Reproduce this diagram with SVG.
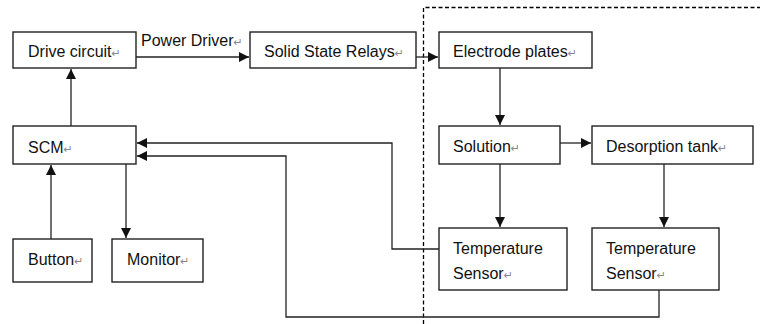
<svg xmlns="http://www.w3.org/2000/svg" width="760" height="324" viewBox="0 0 760 324">
<style>
.box{fill:#fff;stroke:#222;stroke-width:1.4}
.t{font-family:"Liberation Sans",Arial,sans-serif;font-size:16px;fill:#111}
.pm{font-family:"DejaVu Sans",sans-serif;font-size:11px;fill:#888}
.c{fill:none;stroke:#222;stroke-width:1.3}
.a{marker-end:url(#ah)}
.dash{fill:none;stroke:#000;stroke-width:1.3;stroke-dasharray:4 2.5}
</style>
<defs>
<marker id="ah" viewBox="0 0 10 10" refX="10" refY="5" markerWidth="10" markerHeight="10" markerUnits="userSpaceOnUse" orient="auto">
<path d="M0,0 L10,5 L0,10 Z" fill="#111"/>
</marker>
</defs>
<rect width="760" height="324" fill="#fff"/>
<path class="dash" d="M423.5,324 L423.5,7.5 L760,7.5"/>
<g id="connectors">
<line class="c a" x1="136" y1="57" x2="249" y2="57"/>
<text class="t" x="141" y="46">Power Driver<tspan class="pm">↵</tspan></text>
<line class="c a" x1="416" y1="57" x2="438" y2="57"/>
<line class="c a" x1="71" y1="126" x2="71" y2="69"/>
<line class="c a" x1="51" y1="239" x2="51" y2="165"/>
<line class="c a" x1="126" y1="164" x2="126" y2="238"/>
<line class="c a" x1="500" y1="68" x2="500" y2="125"/>
<line class="c a" x1="560" y1="143" x2="591" y2="143"/>
<line class="c a" x1="500" y1="164" x2="500" y2="227"/>
<line class="c a" x1="664" y1="164" x2="664" y2="227"/>
<polyline class="c a" points="439,249 392,249 392,143 137,143"/>
<polyline class="c a" points="659,290 659,317 286,317 286,156 137,156"/>
</g>
<g id="drive"><rect class="box" x="13" y="32" width="123" height="36"/><text class="t" x="28" y="57">Drive circuit<tspan class="pm">↵</tspan></text></g>
<g id="ssr"><rect class="box" x="250" y="32" width="166" height="36"/><text class="t" x="264" y="57">Solid  State Relays<tspan class="pm">↵</tspan></text></g>
<g id="scm"><rect class="box" x="13" y="126" width="123" height="38"/><text class="t" x="28" y="153">SCM<tspan class="pm">↵</tspan></text></g>
<g id="button"><rect class="box" x="13" y="239" width="79" height="43"/><text class="t" x="28" y="265">Button<tspan class="pm">↵</tspan></text></g>
<g id="monitor"><rect class="box" x="112" y="239" width="91" height="43"/><text class="t" x="127" y="265">Monitor<tspan class="pm">↵</tspan></text></g>
<g id="electrode"><rect class="box" x="439" y="32" width="153" height="36"/><text class="t" x="453" y="57">Electrode plates<tspan class="pm">↵</tspan></text></g>
<g id="solution"><rect class="box" x="439" y="126" width="121" height="38"/><text class="t" x="453" y="152">Solution<tspan class="pm">↵</tspan></text></g>
<g id="desorption"><rect class="box" x="592" y="126" width="161" height="38"/><text class="t" x="606" y="152">Desorption tank<tspan class="pm">↵</tspan></text></g>
<g id="temp1"><rect class="box" x="439" y="228" width="128" height="62"/><text class="t" x="453" y="254">Temperature</text><text class="t" x="453" y="279">Sensor<tspan class="pm">↵</tspan></text></g>
<g id="temp2"><rect class="box" x="592" y="228" width="127" height="62"/><text class="t" x="606" y="254">Temperature</text><text class="t" x="606" y="279">Sensor<tspan class="pm">↵</tspan></text></g>
</svg>
